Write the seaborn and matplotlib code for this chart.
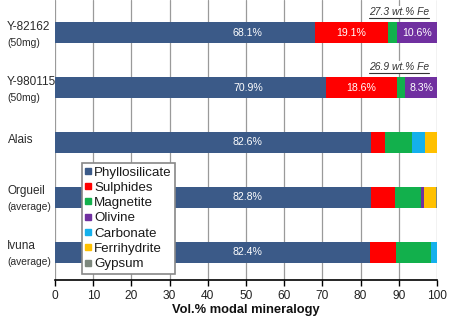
import numpy as np
import pandas as pd
import matplotlib
matplotlib.use("Agg")
import matplotlib.pyplot as plt
from matplotlib.lines import Line2D
import seaborn as sns

samples = ["Y-82162", "Y-980115", "Alais", "Orgueil", "Ivuna"]
sublabels = ["(50mg)", "(50mg)", "", "(average)", "(average)"]
minerals = ["Phyllosilicate", "Sulphides", "Magnetite", "Olivine",
            "Carbonate", "Ferrihydrite", "Gypsum"]
colors = ["#3b5a88", "#ff0000", "#12b04c", "#7030a0",
          "#14b0ec", "#ffc000", "#7d887d"]

phyllosilicate = [68.1, 70.9, 82.6, 82.8, 82.4]
sulphides = [19.1, 18.6, 3.7, 6.2, 6.8]
magnetite = [2.2, 2.2, 7.2, 6.7, 9.2]
olivine = [10.6, 8.3, 0.0, 1.0, 0.0]
carbonate = [0.0, 0.0, 3.4, 0.0, 1.6]
ferrihydrite = [0.0, 0.0, 3.1, 3.0, 0.0]
gypsum = [0.0, 0.0, 0.0, 0.3, 0.0]

fe_notes = {"Y-82162": "27.3 wt.% Fe", "Y-980115": "26.9 wt.% Fe"}
xticks = [0, 10, 20, 30, 40, 50, 60, 70, 80, 90, 100]

df = pd.DataFrame({"sample": samples})
for name, vals in zip(minerals, [phyllosilicate, sulphides, magnetite, olivine,
                                  carbonate, ferrihydrite, gypsum]):
    df[name] = vals
cum = df[minerals].cumsum(axis=1)

sns.set_theme(style="white")
plt.rcParams["font.family"] = ["Liberation Sans", "DejaVu Sans"]

fig = plt.figure(figsize=(4.54, 3.22), dpi=100)
ax = fig.add_axes([55 / 454, 42 / 322, 382 / 454, 280 / 322])

# vertical grid behind the bars
for t in xticks:
    ax.axvline(t, color="#9a9a9a", lw=0.9, zorder=0)

# stacked bars: draw cumulative totals from the outermost layer inwards
for name, col in reversed(list(zip(minerals, colors))):
    sns.barplot(x=cum[name], y=df["sample"], color=col, orient="h",
                width=0.385, saturation=1, ax=ax, zorder=2, linewidth=0)

# value labels
for i, s in enumerate(samples):
    ax.text(50.5, i, f"{phyllosilicate[i]:.1f}%", color="white", fontsize=7.6,
            ha="center", va="center", zorder=3)
    if sulphides[i] > 10:
        ax.text(phyllosilicate[i] + sulphides[i] / 2, i, f"{sulphides[i]:.1f}%",
                color="white", fontsize=7.6, ha="center", va="center", zorder=3)
    if olivine[i] > 5:
        start = cum["Magnetite"][i]
        ax.text(start + olivine[i] / 2, i, f"{olivine[i]:.1f}%",
                color="white", fontsize=7.6, ha="center", va="center", zorder=3)

ax.set_xlim(0, 100)
ax.set_ylim(4.51, -0.6)
ax.set_xticks(xticks)
ax.set_xticklabels([str(t) for t in xticks], fontsize=8.6, color="#222222")
ax.set_yticks([])
ax.set_ylabel("")
ax.set_xlabel("Vol.% modal mineralogy", fontsize=9.3, fontweight="bold",
              color="#111111", labelpad=2)
ax.tick_params(axis="x", direction="out", length=4, width=1, color="black",
               pad=3, bottom=True)
for side in ["top", "right", "left"]:
    ax.spines[side].set_visible(False)
ax.spines["bottom"].set_color("black")
ax.spines["bottom"].set_linewidth(1.2)

# sample names on the left
trans = matplotlib.transforms.blended_transform_factory(fig.transFigure, ax.transData)
for i, (s, sub) in enumerate(zip(samples, sublabels)):
    if sub:
        ax.text(7 / 454, i - 0.11, s, transform=trans, fontsize=8.5,
                ha="left", va="center", color="#2a2a2a")
        ax.text(7 / 454, i + 0.18, sub, transform=trans, fontsize=7.4,
                ha="left", va="center", color="#2a2a2a")
    else:
        ax.text(8 / 454, i - 0.05, s, transform=trans, fontsize=8.5,
                ha="left", va="center", color="#2a2a2a")

# iron content notes, underlined
fig.canvas.draw()
renderer = fig.canvas.get_renderer()
inv = fig.transFigure.inverted()
for s, note in fe_notes.items():
    i = samples.index(s)
    t = ax.text(90, i - 0.38, note, fontsize=7.4, style="italic", ha="center",
                va="center", color="#333333", zorder=4,
                bbox=dict(facecolor="white", edgecolor="none", pad=0.5))
    bb = t.get_window_extent(renderer=renderer)
    (x0, y0), (x1, _) = inv.transform([[bb.x0, bb.y0 - 1], [bb.x1, bb.y0]])
    fig.add_artist(Line2D([x0, x1], [y0, y0], transform=fig.transFigure,
                          color="#333333", lw=0.8))

handles = [Line2D([0], [0], marker="s", linestyle="none", markersize=3.8,
                  markerfacecolor=c, markeredgecolor=c) for c in colors]
leg = ax.legend(handles, minerals, loc="upper left",
                bbox_to_anchor=(0.071, 0.418), borderaxespad=0, fontsize=9.6,
                frameon=True, fancybox=False, handlelength=0.35,
                handletextpad=0.3, labelspacing=0.22, borderpad=0.25,
                edgecolor="#888888", framealpha=1)
leg.get_frame().set_linewidth(1.2)
leg.set_zorder(5)
for txt in leg.get_texts():
    txt.set_color("#1a1a1a")

fig.savefig("out.png", dpi=100)
